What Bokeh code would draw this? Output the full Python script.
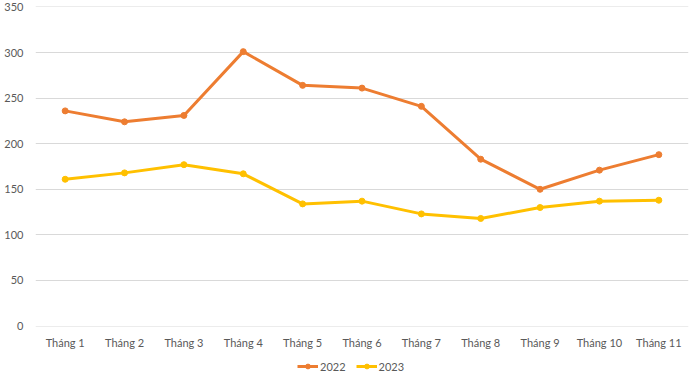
from bokeh.plotting import figure
from bokeh.models import Legend, LegendItem, FactorRange
from bokeh.layouts import column
from bokeh.embed import file_html
from bokeh.resources import INLINE

months = ["Tháng 1", "Tháng 2", "Tháng 3", "Tháng 4", "Tháng 5", "Tháng 6",
          "Tháng 7", "Tháng 8", "Tháng 9", "Tháng 10", "Tháng 11"]
values_2022 = [236, 224, 231, 301, 264, 261, 241, 183, 150, 171, 188]
values_2023 = [161, 168, 177, 167, 134, 137, 123, 118, 130, 137, 138]
y_ticks = [0, 50, 100, 150, 200, 250, 300, 350]
series = ["2022", "2023"]
colors = ["#ED7D31", "#FFC000"]

FONT = "Lato"
TXT = "#595959"

p = figure(x_range=FactorRange(*months, range_padding=0), y_range=(-0.5, 350.5),
           frame_width=653, frame_height=320, output_backend="svg", toolbar_location=None,
           min_border_left=35, min_border_right=10, min_border_top=6, min_border_bottom=0)
p.outline_line_color = None
p.background_fill_color = "white"

for vals, col in zip([values_2022, values_2023], colors):
    p.line(months, vals, line_color=col, line_width=3)
    p.scatter(months, vals, size=6, fill_color=col, line_color=col)

p.yaxis.ticker = y_ticks
p.xgrid.grid_line_color = None
p.ygrid.grid_line_color = "#D9D9D9"
p.ygrid.grid_line_width = 1

for ax in (p.xaxis[0], p.yaxis[0]):
    ax.axis_line_color = None
    ax.major_tick_line_color = None
    ax.minor_tick_line_color = None
    ax.major_tick_out = 0
    ax.major_tick_in = 0
    ax.minor_tick_out = 0
    ax.minor_tick_in = 0
    ax.major_label_text_font = FONT
    ax.major_label_text_font_size = "11px"
    ax.major_label_text_color = TXT
p.yaxis.major_label_standoff = 12
p.xaxis.major_label_standoff = 9

# legend strip below the chart (same series styles, data kept out of view)
p2 = figure(x_range=FactorRange(*months, range_padding=0), y_range=(1000, 1001),
            width=698, height=24, output_backend="svg", toolbar_location=None,
            x_axis_location=None, y_axis_location=None, min_border=0)
p2.outline_line_color = None
p2.xgrid.grid_line_color = None
p2.ygrid.grid_line_color = None
items = []
for name, vals, col in zip(series, [values_2022, values_2023], colors):
    lr = p2.line(months, vals, line_color=col, line_width=3)
    sr = p2.scatter(months, vals, size=6, fill_color=col, line_color=col)
    items.append(LegendItem(label=name, renderers=[lr, sr]))

legend = Legend(items=items, orientation="horizontal", location=(262, 2),
                label_text_font=FONT, label_text_font_size="11px", label_text_color=TXT,
                glyph_width=21, glyph_height=12, spacing=10, padding=0, margin=0,
                border_line_color=None, background_fill_alpha=0, label_standoff=2,
                label_height=14)
p2.add_layout(legend, "center")

layout = column(p, p2, spacing=0)
open("out.html", "w").write(file_html(layout, INLINE))
